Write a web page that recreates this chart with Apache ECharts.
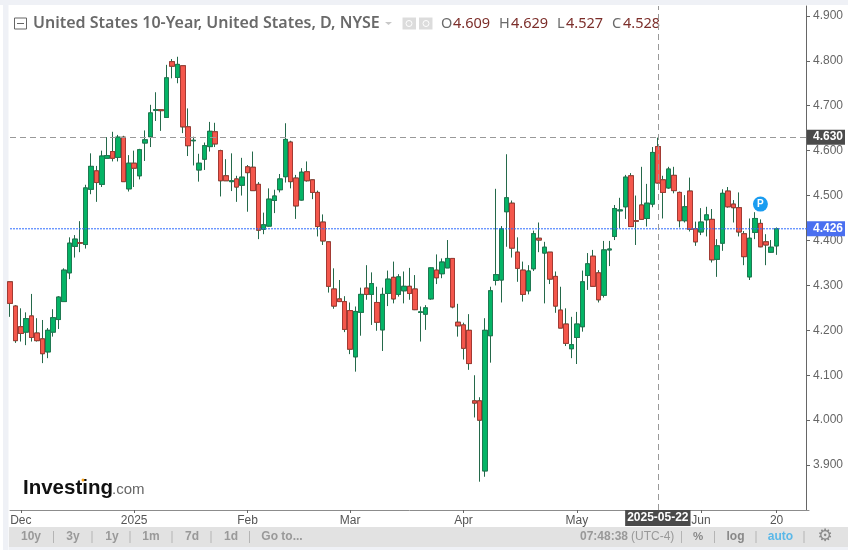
<!DOCTYPE html>
<html>
<head>
<meta charset="utf-8">
<style>
html, body { margin: 0; padding: 0; background: #fff; }
#chart { width: 848px; height: 550px; }
</style>
<script src="https://cdn.jsdelivr.net/npm/echarts@6/dist/echarts.min.js"></script>
</head>
<body>
<div id="chart"></div>
<script>
let dates = [
    '2024-11-27', '2024-11-29', '2024-12-02', '2024-12-03', '2024-12-04', '2024-12-05', '2024-12-06', '2024-12-09', '2024-12-10', '2024-12-11',
    '2024-12-12', '2024-12-13', '2024-12-16', '2024-12-17', '2024-12-18', '2024-12-19', '2024-12-20', '2024-12-23', '2024-12-24', '2024-12-26',
    '2024-12-27', '2024-12-30', '2024-12-31', '2025-01-02', '2025-01-03', '2025-01-06', '2025-01-07', '2025-01-08', '2025-01-09', '2025-01-10',
    '2025-01-13', '2025-01-14', '2025-01-15', '2025-01-16', '2025-01-17', '2025-01-21', '2025-01-22', '2025-01-23', '2025-01-24', '2025-01-27',
    '2025-01-28', '2025-01-29', '2025-01-30', '2025-01-31', '2025-02-03', '2025-02-04', '2025-02-05', '2025-02-06', '2025-02-07', '2025-02-10',
    '2025-02-11', '2025-02-12', '2025-02-13', '2025-02-14', '2025-02-18', '2025-02-19', '2025-02-20', '2025-02-21', '2025-02-24', '2025-02-25',
    '2025-02-26', '2025-02-27', '2025-02-28', '2025-03-03', '2025-03-04', '2025-03-05', '2025-03-06', '2025-03-07', '2025-03-10', '2025-03-11',
    '2025-03-12', '2025-03-13', '2025-03-14', '2025-03-17', '2025-03-18', '2025-03-19', '2025-03-20', '2025-03-21', '2025-03-24', '2025-03-25',
    '2025-03-26', '2025-03-27', '2025-03-28', '2025-03-31', '2025-04-01', '2025-04-02', '2025-04-03', '2025-04-04', '2025-04-07', '2025-04-08',
    '2025-04-09', '2025-04-10', '2025-04-11', '2025-04-14', '2025-04-15', '2025-04-16', '2025-04-17', '2025-04-21', '2025-04-22', '2025-04-23',
    '2025-04-24', '2025-04-25', '2025-04-28', '2025-04-29', '2025-04-30', '2025-05-01', '2025-05-02', '2025-05-05', '2025-05-06', '2025-05-07',
    '2025-05-08', '2025-05-09', '2025-05-12', '2025-05-13', '2025-05-14', '2025-05-15', '2025-05-16', '2025-05-19', '2025-05-20', '2025-05-21',
    '2025-05-22', '2025-05-23', '2025-05-25', '2025-05-26', '2025-05-27', '2025-05-28', '2025-05-29', '2025-05-30', '2025-06-02', '2025-06-03',
    '2025-06-04', '2025-06-05', '2025-06-06', '2025-06-09', '2025-06-10', '2025-06-11', '2025-06-12', '2025-06-13', '2025-06-16', '2025-06-17',
    '2025-06-18', '2025-06-19', '2025-06-20', '2025-06-23', '2025-06-24', '2025-06-25', '2025-06-26', '2025-06-27', '2025-06-30'
];
let opens = [
    4.308, 4.254, 4.208, 4.196, 4.232, 4.194, 4.181, 4.152, 4.196, 4.224,
    4.264, 4.328, 4.387, 4.395, 4.391, 4.514, 4.555, 4.525, 4.583, 4.598,
    4.585, 4.630, 4.515, 4.572, 4.544, 4.617, 4.631, 4.690, 4.691, 4.674,
    4.798, 4.763, 4.789, 4.653, 4.622, 4.557, 4.581, 4.609, 4.642, 4.600,
    4.544, 4.531, 4.537, 4.523, 4.564, 4.563, 4.525, 4.425, 4.432, 4.489,
    4.513, 4.542, 4.619, 4.539, 4.490, 4.553, 4.535, 4.507, 4.441, 4.397,
    4.292, 4.270, 4.264, 4.244, 4.141, 4.240, 4.294, 4.280, 4.262, 4.201,
    4.282, 4.318, 4.280, 4.288, 4.298, 4.292, 4.240, 4.236, 4.270, 4.334,
    4.326, 4.339, 4.360, 4.218, 4.212, 4.200, 4.043, 4.043, 3.887, 4.188,
    4.311, 4.312, 4.464, 4.483, 4.374, 4.334, 4.288, 4.337, 4.405, 4.372,
    4.374, 4.320, 4.245, 4.214, 4.159, 4.184, 4.208, 4.322, 4.365, 4.328,
    4.278, 4.379, 4.409, 4.466, 4.475, 4.544, 4.444, 4.479, 4.449, 4.481,
    4.609, 4.535, 4.517, 4.545, 4.507, 4.444, 4.510, 4.426, 4.419, 4.446,
    4.447, 4.358, 4.394, 4.510, 4.481, 4.473, 4.415, 4.319, 4.418, 4.438,
    4.397, 4.374, 4.388
];
let closes = [
    4.260, 4.177, 4.193, 4.226, 4.184, 4.177, 4.148, 4.200, 4.228, 4.274,
    4.334, 4.394, 4.403, 4.394, 4.517, 4.565, 4.529, 4.588, 4.589, 4.583,
    4.630, 4.531, 4.572, 4.561, 4.602, 4.624, 4.684, 4.691, 4.689, 4.762,
    4.788, 4.792, 4.653, 4.611, 4.623, 4.572, 4.611, 4.643, 4.615, 4.533,
    4.533, 4.533, 4.519, 4.541, 4.551, 4.511, 4.423, 4.435, 4.492, 4.499,
    4.537, 4.625, 4.531, 4.477, 4.552, 4.533, 4.507, 4.431, 4.399, 4.298,
    4.254, 4.264, 4.202, 4.158, 4.242, 4.280, 4.280, 4.304, 4.218, 4.280,
    4.314, 4.270, 4.319, 4.298, 4.282, 4.246, 4.241, 4.250, 4.339, 4.317,
    4.352, 4.360, 4.252, 4.210, 4.160, 4.126, 4.038, 4.000, 4.200, 4.288,
    4.324, 4.426, 4.495, 4.383, 4.338, 4.280, 4.332, 4.415, 4.401, 4.385,
    4.314, 4.254, 4.205, 4.171, 4.168, 4.214, 4.308, 4.348, 4.298, 4.268,
    4.379, 4.381, 4.471, 4.468, 4.541, 4.431, 4.443, 4.447, 4.483, 4.596,
    4.528, 4.507, 4.559, 4.511, 4.444, 4.475, 4.425, 4.397, 4.441, 4.457,
    4.357, 4.388, 4.505, 4.475, 4.473, 4.419, 4.364, 4.405, 4.449, 4.386,
    4.390, 4.385, 4.426
];
let highs = [
    4.308, 4.256, 4.249, 4.240, 4.281, 4.227, 4.223, 4.205, 4.247, 4.276,
    4.338, 4.407, 4.412, 4.443, 4.524, 4.594, 4.566, 4.600, 4.630, 4.642,
    4.635, 4.633, 4.590, 4.600, 4.604, 4.645, 4.702, 4.730, 4.691, 4.791,
    4.804, 4.809, 4.789, 4.694, 4.631, 4.593, 4.618, 4.664, 4.662, 4.602,
    4.581, 4.594, 4.544, 4.584, 4.568, 4.598, 4.530, 4.462, 4.516, 4.513,
    4.548, 4.661, 4.622, 4.546, 4.561, 4.576, 4.536, 4.511, 4.458, 4.397,
    4.338, 4.312, 4.276, 4.262, 4.253, 4.295, 4.345, 4.329, 4.297, 4.295,
    4.333, 4.353, 4.325, 4.331, 4.339, 4.323, 4.253, 4.256, 4.340, 4.369,
    4.360, 4.401, 4.360, 4.259, 4.217, 4.236, 4.100, 4.051, 4.227, 4.297,
    4.515, 4.432, 4.592, 4.489, 4.407, 4.353, 4.345, 4.422, 4.440, 4.397,
    4.374, 4.331, 4.297, 4.249, 4.230, 4.241, 4.333, 4.372, 4.379, 4.334,
    4.399, 4.399, 4.479, 4.495, 4.546, 4.550, 4.500, 4.564, 4.526, 4.608,
    4.629, 4.544, 4.564, 4.564, 4.509, 4.501, 4.540, 4.442, 4.472, 4.475,
    4.470, 4.403, 4.514, 4.519, 4.490, 4.507, 4.421, 4.449, 4.463, 4.447,
    4.414, 4.401, 4.429
];
let lows = [
    4.230, 4.172, 4.175, 4.167, 4.175, 4.175, 4.127, 4.138, 4.186, 4.203,
    4.264, 4.314, 4.362, 4.374, 4.382, 4.503, 4.486, 4.519, 4.583, 4.576,
    4.576, 4.531, 4.509, 4.519, 4.536, 4.577, 4.608, 4.666, 4.644, 4.674,
    4.761, 4.750, 4.639, 4.588, 4.567, 4.531, 4.557, 4.598, 4.608, 4.498,
    4.533, 4.510, 4.486, 4.500, 4.464, 4.511, 4.403, 4.414, 4.431, 4.461,
    4.507, 4.529, 4.516, 4.448, 4.489, 4.531, 4.492, 4.409, 4.390, 4.284,
    4.248, 4.264, 4.196, 4.147, 4.108, 4.188, 4.268, 4.212, 4.199, 4.154,
    4.254, 4.260, 4.275, 4.260, 4.268, 4.245, 4.175, 4.201, 4.268, 4.303,
    4.316, 4.339, 4.249, 4.186, 4.135, 4.112, 4.006, 3.863, 3.874, 4.128,
    4.300, 4.262, 4.386, 4.362, 4.308, 4.264, 4.280, 4.332, 4.374, 4.260,
    4.303, 4.239, 4.205, 4.165, 4.138, 4.125, 4.197, 4.290, 4.297, 4.262,
    4.273, 4.343, 4.401, 4.427, 4.448, 4.431, 4.390, 4.446, 4.431, 4.474,
    4.527, 4.449, 4.515, 4.505, 4.429, 4.440, 4.420, 4.388, 4.412, 4.409,
    4.351, 4.319, 4.377, 4.473, 4.440, 4.409, 4.345, 4.312, 4.403, 4.385,
    4.345, 4.373, 4.368
];
let xTickDates = ['2024-12-02', '2025-01-02', '2025-02-03', '2025-03-03', '2025-04-01', '2025-05-01', '2025-06-02', '2025-06-20'];
let xTickLabels = ['Dec', '2025', 'Feb', 'Mar', 'Apr', 'May', 'Jun', '20'];
let yTicks = [3.9, 4.0, 4.1, 4.2, 4.3, 4.4, 4.5, 4.6, 4.7, 4.8, 4.9];
let crosshairDate = '2025-05-22';
let crosshairPrice = 4.630;
let lastPrice = 4.426;
let pennantDate = '2025-06-17';
let pennantPrice = 4.481;

let toolbarLeft = ['10y', '3y', '1y', '1m', '7d', '1d', 'Go to...'];
let toolbarLeftX = [31, 73, 112, 151, 192, 231, 282];
let toolbarLeftSeps = [53.5, 92, 130, 172, 211, 249.5];
let toolbarRightSeps = [681.5, 714.5, 756, 804];

let uiFont = 'Arial, "Liberation Sans", sans-serif';
let headFont = '"Noto Sans", sans-serif';
let green = '#04b466';
let red = '#f4574c';
let wick = '#24694a';
let blue = '#2d6bff';

let showTick = (index, value) => xTickDates.includes(value);

function text(x, y, str, fill, font, align) {
    return {
        type: 'text', x: x, y: y, silent: true,
        style: {text: str, fill: fill, font: font, align: align || 'left', verticalAlign: 'middle'}
    };
}

function rect(x, y, w, h, fill, stroke) {
    return {
        type: 'rect', silent: true,
        shape: {x: x, y: y, width: w, height: h},
        style: {fill: fill, stroke: stroke || null}
    };
}

let chrome = [
    rect(0, 0, 848, 5, '#eff1f6'),
    rect(3, 0, 5.5, 550, '#eff1f6'),
    rect(9, 527, 839, 20, '#e2e2e2'),
    rect(9, 547, 839, 3, '#eff1f6'),
    // title row
    rect(14.5, 18, 12, 11, '#fff', '#666'),
    {type: 'line', silent: true, shape: {x1: 17, y1: 23.5, x2: 24, y2: 23.5}, style: {stroke: '#666'}},
    text(33, 23.5, 'United States 10-Year, United States, D, NYSE', '#6a6a6a', '600 16px ' + headFont),
    {type: 'polygon', silent: true, shape: {points: [[385, 22], [392, 22], [388.5, 25]]}, style: {fill: '#c8c8c8'}},
    rect(402.5, 17.5, 13.5, 12, '#dcdcdc'),
    rect(419, 17.5, 13.5, 12, '#dcdcdc'),
    {type: 'circle', silent: true, shape: {cx: 409, cy: 23.5, r: 3}, style: {fill: '#dcdcdc', stroke: '#fff'}},
    {type: 'circle', silent: true, shape: {cx: 426, cy: 23.5, r: 3}, style: {fill: '#dcdcdc', stroke: '#fff'}},
    text(441, 23.5, 'O', '#6a6a6a', '14.5px ' + headFont),
    text(453, 23.5, '4.609', '#7c2e2a', '14.5px ' + headFont),
    text(499, 23.5, 'H', '#6a6a6a', '14.5px ' + headFont),
    text(511, 23.5, '4.629', '#7c2e2a', '14.5px ' + headFont),
    text(557, 23.5, 'L', '#6a6a6a', '14.5px ' + headFont),
    text(566, 23.5, '4.527', '#7c2e2a', '14.5px ' + headFont),
    text(612, 23.5, 'C', '#6a6a6a', '14.5px ' + headFont),
    text(623, 23.5, '4.528', '#7c2e2a', '14.5px ' + headFont),
    // logo
    text(23, 488, 'Investing', '#111', 'bold 20.5px ' + uiFont),
    {type: 'circle', silent: true, shape: {cx: 83, cy: 480, r: 1.5}, style: {fill: '#f7a21b'}},
    text(112, 490, '.com', '#666', '15px ' + uiFont),
    // toolbar
    text(698, 537, '%', '#888', 'bold 11.5px ' + uiFont, 'center'),
    text(580, 537, '07:48:38', '#999', 'bold 12px ' + uiFont),
    text(631, 537, '(UTC-4)', '#999', '12px ' + uiFont),
    text(735.5, 537, 'log', '#888', 'bold 12px ' + uiFont, 'center'),
    text(780.5, 537, 'auto', '#5bb8e8', 'bold 12px ' + uiFont, 'center'),
    text(825, 537, '\u2699', '#8a8a8a', '17px "DejaVu Sans"', 'center'),
];
toolbarLeft.forEach((s, i) => {
    chrome.push(text(toolbarLeftX[i], 537, s, '#999', 'bold 12px ' + uiFont, 'center'));
});
toolbarLeftSeps.concat(toolbarRightSeps).forEach(x => {
    chrome.push({type: 'line', silent: true, shape: {x1: x, y1: 531, x2: x, y2: 543}, style: {stroke: '#b4b4b4'}});
});

let wickData = opens.map((o, i) => [o, closes[i], lows[i], highs[i]]);
let bodyData = opens.map((o, i) => [o, closes[i], Math.min(o, closes[i]), Math.max(o, closes[i])]);

let chart = echarts.init(document.getElementById('chart'));
chart.setOption({
    animation: false,
    grid: {left: 10, right: 39, top: 6, bottom: 40},
    xAxis: {
        type: 'category',
        data: dates,
        boundaryGap: false,
        axisLine: {lineStyle: {color: '#8c8c8c', width: 1}},
        axisTick: {interval: showTick, length: 3, lineStyle: {color: '#666'}},
        axisLabel: {
            interval: showTick,
            formatter: value => xTickLabels[xTickDates.indexOf(value)],
            color: '#555', fontFamily: uiFont, fontSize: 12, margin: 5
        },
        splitLine: {show: false}
    },
    yAxis: {
        type: 'value',
        position: 'right',
        offset: -3,
        min: 3.8,
        max: 4.922,
        axisLine: {show: true, onZero: false, lineStyle: {color: '#666', width: 1}},
        axisTick: {show: true, customValues: yTicks, length: 4, lineStyle: {color: '#666'}},
        axisLabel: {
            customValues: yTicks,
            formatter: value => value.toFixed(3),
            color: '#666', fontFamily: uiFont, fontSize: 12, margin: 7, padding: [2, 0, 0, 0]
        },
        splitLine: {show: false}
    },
    series: [
        {
            type: 'candlestick',
            data: wickData,
            barWidth: 5,
            itemStyle: {color: wick, color0: wick, borderColor: wick, borderColor0: wick, borderWidth: 1}
        },
        {
            type: 'candlestick',
            data: bodyData,
            barWidth: 5,
            itemStyle: {color: green, color0: red, borderColor: '#1f7a52', borderColor0: '#a33a33', borderWidth: 1},
            markLine: {
                silent: true,
                clip: false,
                symbol: 'none',
                animation: false,
                data: [
                    {
                        yAxis: crosshairPrice,
                        lineStyle: {color: '#999', type: [6, 4], width: 1},
                        label: {
                            position: 'end', distance: -2, formatter: crosshairPrice.toFixed(3),
                            color: '#fff', backgroundColor: '#4a4a4a', fontFamily: uiFont, fontSize: 12, fontWeight: 'bold',
                            padding: [2, 3, 1, 6], width: 29
                        }
                    },
                    {
                        xAxis: crosshairDate,
                        lineStyle: {color: '#999', type: [6, 4], width: 1},
                        label: {
                            position: 'start', distance: 0, formatter: crosshairDate, rotate: 0,
                            color: '#fff', backgroundColor: '#4a4a4a', fontFamily: uiFont, fontSize: 12, fontWeight: 'bold',
                            padding: [2, 2, 2, 2]
                        }
                    }
                ]
            },
            markPoint: {
                silent: true,
                animation: false,
                data: [{
                    coord: [pennantDate, pennantPrice],
                    symbol: 'circle',
                    symbolSize: 15,
                    itemStyle: {color: '#1a9cf0', borderWidth: 0},
                    label: {show: true, formatter: 'P', position: 'inside', color: '#fff', fontFamily: uiFont, fontWeight: 'bold', fontSize: 10}
                }]
            }
        },
        {
            // last price line, a plain line series so the blue shows
            type: 'line',
            data: [[dates[0], lastPrice], [dates[dates.length - 1], lastPrice]],
            showSymbol: false,
            symbol: 'none',
            lineStyle: {color: blue, type: [2, 1], width: 1},
            itemStyle: {color: blue},
            endLabel: {
                show: true, distance: -2, formatter: lastPrice.toFixed(3),
                color: '#fff', backgroundColor: '#4a6ff0', fontFamily: uiFont, fontSize: 12, fontWeight: 'bold',
                padding: [2, 3, 1, 6], width: 29
            }
        }
    ],
    graphic: chrome
});
</script>
</body>
</html>
